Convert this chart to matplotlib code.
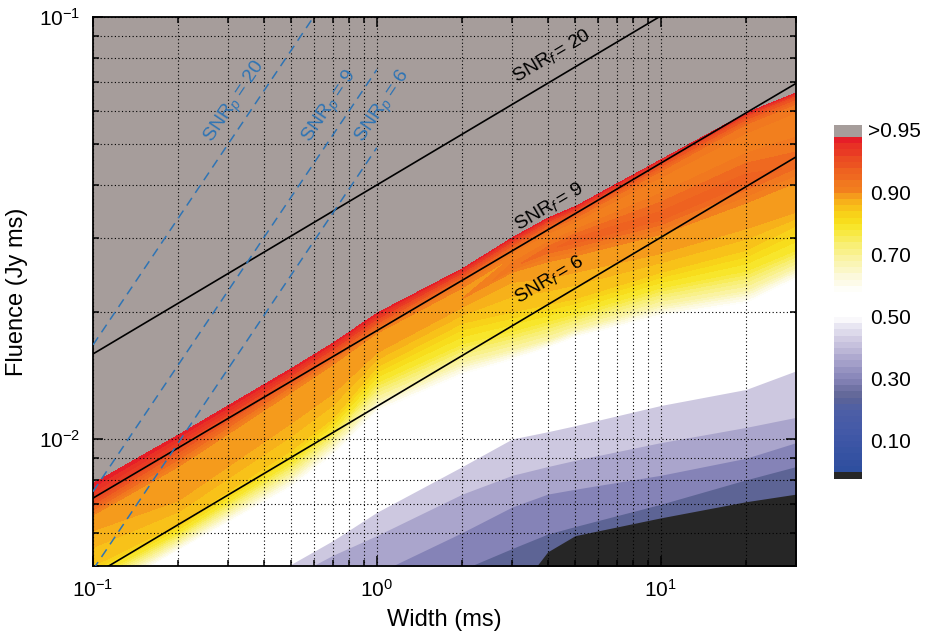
import matplotlib as mpl
import matplotlib.pyplot as plt
import numpy as np
from matplotlib.colors import LinearSegmentedColormap, Normalize
from matplotlib.ticker import NullFormatter

mpl.rcParams['font.family'] = 'Liberation Sans'
mpl.rcParams['mathtext.fontset'] = 'custom'
mpl.rcParams['mathtext.rm'] = 'Liberation Sans'
mpl.rcParams['mathtext.it'] = 'Liberation Sans:italic'

# ---------- detection probability contours ----------
# pulse widths (ms) where each contour's fluence was sampled
width = [0.1, 0.2, 0.5, 0.7, 1, 2, 3, 4, 5, 10, 20, 30]

# fluence (Jy ms) of the warm contours, highest probability first
f_095 = [0.0079, 0.0103, 0.0148, 0.0170, 0.0200, 0.0255, 0.0302, 0.0336, 0.0358, 0.0462, 0.0596, 0.0665]
f_093 = [0.00714, 0.00955, 0.0140, 0.0162, 0.0191, 0.0246, 0.0292, 0.0326, 0.0347, 0.0450, 0.0582, 0.0650]
f_091 = [0.00676, 0.0089, 0.0133, 0.0154, 0.0183, 0.0236, 0.0280, 0.0312, 0.0333, 0.0430, 0.0555, 0.0620]
f_090 = [0.0066, 0.0086, 0.0129, 0.0150, 0.0178, 0.0228, 0.0270, 0.0300, 0.0320, 0.0400, 0.0500, 0.0560]
f_ridge = [0.0064, 0.0082, 0.0124, 0.0145, 0.0172, 0.0215, 0.0255, 0.0280, 0.0295, 0.0335, 0.0410, 0.0450]
p_ridge = [0.90, 0.90, 0.90, 0.90, 0.90, 0.90, 0.91, 0.915, 0.92, 0.92, 0.92, 0.915]
f_088 = [0.00606, 0.00714, 0.0109, 0.0128, 0.0160, 0.0205, 0.0235, 0.0240, 0.0248, 0.0275, 0.0315, 0.0345]
f_084 = [0.0050, 0.0063, 0.0094, 0.0112, 0.0148, 0.0188, 0.0200, 0.0208, 0.0215, 0.0248, 0.0280, 0.0320]
f_078 = [0.0047, 0.0060, 0.0088, 0.0105, 0.0136, 0.0168, 0.0180, 0.0190, 0.0198, 0.0228, 0.0250, 0.0280]
f_068 = [0.0044, 0.0057, 0.0082, 0.0098, 0.0124, 0.0152, 0.0163, 0.0172, 0.0182, 0.0208, 0.0225, 0.0255]
f_060 = [0.0042, 0.0055, 0.0078, 0.0093, 0.0118, 0.0144, 0.0156, 0.0166, 0.0176, 0.0198, 0.0213, 0.0243]
f_055 = [0.0041, 0.0054, 0.0076, 0.0090, 0.0114, 0.0140, 0.0152, 0.0162, 0.0172, 0.0193, 0.0207, 0.0236]

# low-probability plateaus: upper edge fluence of each band
lav_levels = [0.42, 0.36, 0.30, 0.24]
f_lav1 = [0.0030, 0.0036, 0.00505, 0.00574, 0.0067, 0.0086, 0.0100, 0.0104, 0.01075, 0.0120, 0.0131, 0.0145]
f_lav2 = [0.0025, 0.0030, 0.0047, 0.0053, 0.0059, 0.0074, 0.0082, 0.0086, 0.0089, 0.0098, 0.01065, 0.01125]
f_lav3 = [0.0020, 0.0025, 0.0038, 0.0043, 0.0048, 0.0060, 0.0069, 0.0074, 0.0076, 0.0082, 0.0090, 0.0098]
f_lav4 = [0.0015, 0.0018, 0.0028, 0.0032, 0.0038, 0.0049, 0.0055, 0.00595, 0.0062, 0.0070, 0.0080, 0.0086]
f_zero = [0.001, 0.001, 0.001, 0.001, 0.001, 0.002, 0.0042, 0.0054, 0.0059, 0.0065, 0.0071, 0.0074]

# ---------- S/N thresholds ----------
snr_f = [20, 9, 6]
snr_f_lo = [0.0159, 0.00724, 0.00475]   # fluence at 0.1 ms
snr_f_hi = [0.156, 0.0696, 0.0466]      # fluence at 30 ms
snr_p = [20, 9, 6]
snr_p_lo = [0.0167, 0.0075, 0.0049]     # fluence at 0.1 ms
snr_p_hi = [0.167, 0.075, 0.049]        # fluence at 1 ms

# colour scale
cmap_values = [0.00, 0.12, 0.20, 0.24, 0.30, 0.36, 0.42, 0.47, 0.50, 0.58, 0.63, 0.68,
               0.74, 0.80, 0.84, 0.87, 0.89, 0.905, 0.92, 0.935, 0.95]
cmap_colors = ['#2d4e9e', '#4158a7', '#4e5fa6', '#5e6494', '#8684b8', '#a9a4cc', '#ccc7e0',
               '#e8e6f2', '#ffffff', '#ffffff', '#fcf9dc', '#faf4ac', '#f8ee6c', '#f8e41e',
               '#f8cd18', '#f7b31a', '#f59c1c', '#f2801e', '#ee6220', '#ea4422', '#e61e28']
levels = np.concatenate([np.arange(0, 0.9, 0.02), np.linspace(0.9, 0.95, 10)])

cmap = LinearSegmentedColormap.from_list(
    'pdet', list(zip(np.array(cmap_values) / 0.95, cmap_colors)))
cmap = cmap.with_extremes(over='#a69d9b', under='#262626')
norm = Normalize(vmin=0, vmax=0.95)

# curvilinear grid: each row is one contour, constant level along it
n = len(width)
rows = [[0.2] * n, f_095, f_093, f_091, f_090, f_ridge, f_088, f_084, f_078,
        f_068, f_060, f_055, [0.001] * n]
row_levels = [[1.0] * n, [0.95] * n, [0.93] * n, [0.91] * n, [0.90] * n, p_ridge,
              [0.88] * n, [0.84] * n, [0.78] * n, [0.68] * n, [0.60] * n,
              [0.55] * n, [0.52] * n]
X = np.tile(width, (len(rows), 1))
Y = np.array(rows)
Z = np.array(row_levels)

fig = plt.figure(figsize=(9.27, 6.38), dpi=100)
ax = fig.add_axes([0.1003, 0.1129, 0.7584, 0.8605])
ax.set_xscale('log')
ax.set_yscale('log')
ax.set_xlim(0.1, 30)
ax.set_ylim(0.005, 0.1)

cs = ax.contourf(X, Y, Z, levels=levels, cmap=cmap, norm=norm, extend='both')

for lev, f in zip(lav_levels, [f_lav1, f_lav2, f_lav3, f_lav4]):
    ax.fill_between(width, 1e-3, f, color=cmap(norm(lev)), lw=0, zorder=1.2)
ax.fill_between(width, 1e-3, f_zero, color=cmap.get_under(), lw=0, zorder=1.3)


def screen_angle(w0, f0, w1, f1):
    (x0, y0), (x1, y1) = ax.transData.transform([(w0, f0), (w1, f1)])
    return np.degrees(np.arctan2(y1 - y0, x1 - x0))


blue = '#2f74b4'
for lo, hi in zip(snr_f_lo, snr_f_hi):
    ax.plot([0.1, 30], [lo, hi], color='k', lw=1.2, zorder=3)
for lo, hi in zip(snr_p_lo, snr_p_hi):
    ax.plot([0.1, 1], [lo, hi], color=blue, lw=1.1, dashes=(6, 4), zorder=3)

ang_f = screen_angle(0.1, snr_f_lo[0], 30, snr_f_hi[0])
ang_p = screen_angle(0.1, snr_p_lo[0], 1, snr_p_hi[0])

f_label_pos = [(4.13, 0.0808), (4.03, 0.0356), (4.03, 0.0239)]
for s, (xw, yf) in zip(snr_f, f_label_pos):
    ax.text(xw, yf, rf'$\mathregular{{SNR}}_{{f}}\,$= {s}', rotation=ang_f,
            rotation_mode='anchor', ha='center', va='center', fontsize=14, zorder=4)

p_label_pos = [(0.319, 0.0628), (0.686, 0.0611), (1.054, 0.0611)]
for s, (xw, yf) in zip(snr_p, p_label_pos):
    ax.text(xw, yf, rf'$\mathregular{{SNR}}_{{p}}$ = {s}', rotation=ang_p,
            rotation_mode='anchor', ha='center', va='center', fontsize=14,
            color=blue, zorder=4)

ax.set_axisbelow(False)
ax.grid(True, which='both', color='k', lw=0.8, linestyle=(0, (1, 2.2)))
ax.tick_params(which='both', direction='in', top=True, right=True, width=1.1,
               labelsize=15, pad=9)
ax.tick_params(which='major', length=7)
ax.tick_params(which='minor', length=4)
ax.xaxis.set_minor_formatter(NullFormatter())
ax.yaxis.set_minor_formatter(NullFormatter())
for sp in ax.spines.values():
    sp.set_linewidth(1.3)

ax.set_xlabel('Width (ms)', fontsize=17, labelpad=6)
ax.set_ylabel('Fluence (Jy ms)', fontsize=17, labelpad=8)

# ---------- colour bar ----------
cax = fig.add_axes([0.8997, 0.2492, 0.0302, 0.5549])
cb = fig.colorbar(cs, cax=cax, extendrect=True, extendfrac=[0.021, 0.036],
                  spacing='uniform', ticks=[0.1, 0.3, 0.5, 0.7, 0.9])
cb.outline.set_visible(False)
cb.ax.set_yticklabels(['0.10', '0.30', '0.50', '0.70', '0.90'])
cb.ax.tick_params(length=0, labelsize=15, pad=6)
cb.ax.text(1.22, 1.018, '>0.95', transform=cb.ax.transAxes, fontsize=15,
           ha='left', va='center')

fig.savefig('out.png', dpi=100)
